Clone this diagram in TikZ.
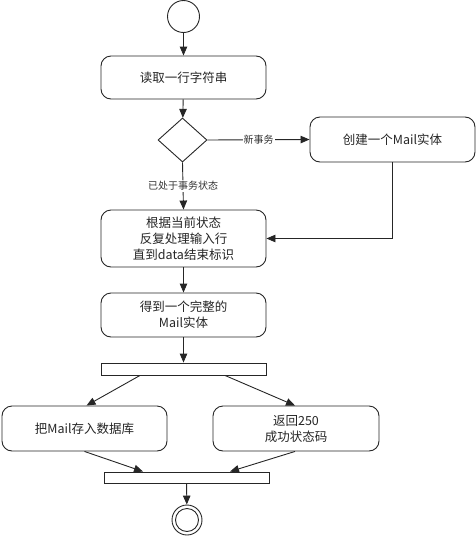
\documentclass[tikz,border=0pt]{standalone}
\usepackage{fontspec}
\setmainfont{Noto Sans CJK SC}
\usetikzlibrary{arrows.meta,shapes.geometric,calc}
\tikzset{
  act/.style={draw=black!85,line width=0.9pt,rounded corners=10pt,fill=white,minimum width=165pt,inner sep=0pt,align=center,font=\fontsize{12.5}{16}\selectfont,text=black!85},
  bar/.style={draw=black!85,line width=0.9pt,fill=white,minimum width=165pt,inner sep=0pt},
  flow/.style={draw=black!85,line width=0.9pt,-{Triangle[length=9pt,width=7.5pt]}},
  lab/.style={fill=white,inner sep=1pt,font=\fontsize{10}{12}\selectfont,text=black!80}
}
\begin{document}
\begin{tikzpicture}[x=1pt,y=-1pt]
\useasboundingbox (0,0) rectangle (476,536);
\node[circle,draw=black!85,line width=0.9pt,minimum size=32pt,inner sep=0pt] (start) at (183.5,16.5) {};
\node[act,minimum height=43pt] (read) at (183.5,77.5) {读取一行字符串};
\node[diamond,draw=black!85,line width=0.9pt,minimum width=49pt,minimum height=44pt,inner sep=0pt,aspect=1.1] (dec) at (182.5,140) {};
\node[act,minimum height=45pt] (create) at (392.5,139.5) {创建一个Mail实体};
\node[act,minimum height=57pt] (proc) at (183.5,238.5) {根据当前状态\\反复处理输入行\\直到data结束标识};
\node[act,minimum height=44pt] (get) at (183.5,315) {得到一个完整的\\Mail实体};
\node[bar,minimum height=12pt] (fork) at (183.5,369) {};
\node[act,minimum height=45pt] (store) at (84.5,428.5) {把Mail存入数据库};
\node[act,minimum height=45pt,minimum width=166pt] (ret) at (296,428.5) {返回250\\成功状态码};
\node[bar,minimum height=11pt] (join) at (186.5,477.5) {};
\node[circle,draw=black!85,line width=0.9pt,minimum size=30pt,inner sep=0pt] (final) at (187,520) {};
\node[circle,draw=black!85,line width=0.9pt,minimum size=23pt,inner sep=0pt] (finalin) at (187,520) {};

\draw[flow] (start) -- (read);
\draw[flow] (read) -- (dec);
\draw[flow] (dec.east) -- node[lab]{新事务} (create.west);
\draw[flow] (dec.south) -- node[lab]{已处于事务状态} (proc.north);
\draw[flow] (create.south) |- (proc.east);
\draw[flow] (proc) -- (get);
\draw[flow] (get) -- (fork);
\draw[flow] ([xshift=-43.5pt]fork.south) -- ([xshift=2pt]store.north);
\draw[flow] ([xshift=41.5pt]fork.south) -- ([xshift=-1pt]ret.north);
\draw[flow] (store.south) -- ([xshift=-43.5pt]join.north);
\draw[flow] ([xshift=-1pt]ret.south) -- ([xshift=43.5pt]join.north);
\draw[flow] (join) -- (final);
\end{tikzpicture}
\end{document}
